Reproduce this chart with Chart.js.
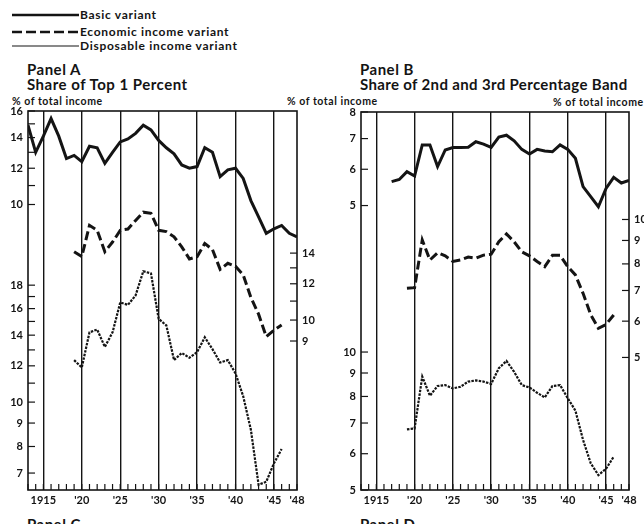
<!DOCTYPE html>
<html>
<head>
<meta charset="utf-8">
<script src="https://cdn.jsdelivr.net/npm/chart.js@4.4.1/dist/chart.umd.min.js"></script>
<style>
  html, body { margin: 0; padding: 0; background: #fff; overflow: hidden; width: 644px; height: 524px; }
  body { position: relative; font-family: Lato, "DejaVu Sans", sans-serif; color: #141414; }
  .t { position: absolute; white-space: nowrap; font-weight: bold; line-height: 1; }
  .lg { font-size: 12px; letter-spacing: 0.7px; }
  .pn { font-size: 15px; letter-spacing: 0.5px; }
  .un { font-size: 10.5px; letter-spacing: 0.55px; }
  canvas { position: absolute; top: 0; }
</style>
</head>
<body>
<svg style="position:absolute;left:0;top:0" width="90" height="55">
  <line x1="12" y1="15" x2="79" y2="15" stroke="#141414" stroke-width="2.5"/>
  <line x1="12" y1="32" x2="79" y2="32" stroke="#141414" stroke-width="2.5" stroke-dasharray="10 4"/>
  <line x1="12" y1="46" x2="79" y2="46" stroke="#141414" stroke-width="1.2"/>
</svg>
<div class="t lg" style="left:80px;top:9px">Basic variant</div>
<div class="t lg" style="left:80px;top:26px">Economic income variant</div>
<div class="t lg" style="left:80px;top:40px">Disposable income variant</div>

<div class="t pn" style="left:27px;top:62px">Panel A</div>
<div class="t pn" style="left:27px;top:77px">Share of Top 1 Percent</div>
<div class="t un" style="left:12px;top:96px">% of total income</div>
<div class="t un" style="left:287px;top:96px">% of total income</div>

<div class="t pn" style="left:360px;top:62px">Panel B</div>
<div class="t pn" style="left:360px;top:77px;letter-spacing:0.35px">Share of 2nd and 3rd Percentage Band</div>
<div class="t un" style="left:553px;top:97px">% of total income</div>

<div class="t pn" style="left:27px;top:517px">Panel C</div>
<div class="t pn" style="left:360px;top:517px">Panel D</div>

<canvas id="chartA" width="322" height="524" style="left:0"></canvas>
<canvas id="chartB" width="340" height="524" style="left:320px"></canvas>

<script>
const years = [1913, 1914, 1915, 1916, 1917, 1918, 1919, 1920, 1921, 1922, 1923, 1924,
  1925, 1926, 1927, 1928, 1929, 1930, 1931, 1932, 1933, 1934, 1935, 1936,
  1937, 1938, 1939, 1940, 1941, 1942, 1943, 1944, 1945, 1946, 1947, 1948];
const xLabelYears = [1915, 1920, 1925, 1930, 1935, 1940, 1945, 1948];
const xLabels = ["1915", "'20", "'25", "'30", "'35", "'40", "'45", "'48"];

// Panel A - share of top 1 percent
const topBasic = [14.9, 13.0, 14.1, 15.4, 14.1, 12.6, 12.8, 12.4, 13.4, 13.3, 12.3, 13.0,
  13.7, 13.9, 14.3, 14.9, 14.55, 13.8, 13.3, 12.9, 12.2, 12.0, 12.1, 13.3,
  13.0, 11.5, 11.9, 12.0, 11.4, 10.2, 9.4, 8.65, 8.85, 9.0, 8.65, 8.5];
const topEconomic = [null, null, null, null, null, null, 14.1, 13.76, 16.1, 15.7, 14.1, 14.8,
  15.7, 15.8, 16.5, 17.2, 17.1, 15.7, 15.6, 15.2, 14.45, 13.6, 13.75, 14.7,
  14.25, 12.9, 13.3, 13.1, 12.55, 11.2, 10.3, 9.2, 9.5, 9.75, null, null];
const topDisposable = [null, null, null, null, null, null, 12.35, 11.9, 14.2, 14.4, 13.2, 14.2,
  16.5, 16.3, 17.1, 19.3, 19.1, 15.2, 14.7, 12.35, 12.8, 12.5, 12.85, 13.85,
  13.05, 12.2, 12.35, 11.55, 10.3, 8.7, 6.6, 6.7, 7.35, 7.9, null, null];

// Panel B - share of 2nd and 3rd percentage band
const bandBasic = [null, null, null, null, 5.64, 5.7, 5.93, 5.8, 6.78, 6.78, 6.08, 6.61,
  6.69, 6.69, 6.7, 6.89, 6.81, 6.7, 7.05, 7.12, 6.92, 6.63, 6.48, 6.63,
  6.58, 6.55, 6.78, 6.63, 6.34, 5.5, 5.23, 4.97, 5.45, 5.76, 5.6, 5.67];
const bandEconomic = [null, null, null, null, null, null, 7.08, 7.1, 9.02, 8.16, 8.46, 8.33,
  8.1, 8.16, 8.28, 8.23, 8.36, 8.4, 8.94, 9.3, 8.94, 8.5, 8.33, 8.1,
  7.89, 8.35, 8.35, 7.89, 7.57, 6.9, 6.2, 5.79, 5.9, 6.19, null, null];
const bandDisposable = [null, null, null, null, null, null, 6.78, 6.81, 8.84, 8.03, 8.43, 8.47,
  8.33, 8.4, 8.62, 8.67, 8.62, 8.52, 9.22, 9.56, 9.05, 8.47, 8.37, 8.15,
  7.96, 8.43, 8.47, 7.93, 7.45, 6.43, 5.72, 5.39, 5.56, 5.91, null, null];

// axis ticks (all ticks get a mark, the listed ones get a number)
const topBasicTicks = [10, 11, 12, 13, 14, 15, 16];
const topBasicLabels = [10, 12, 14, 16];
const topEconTicks = [9, 10, 11, 12, 13, 14];
const topEconLabels = [9, 10, 12, 14];
const topDispTicks = [7, 8, 9, 10, 11, 12, 13, 14, 15, 16, 17, 18];
const topDispLabels = [7, 8, 9, 10, 12, 14, 16, 18];
const bandBasicTicks = [5, 6, 7, 8];
const bandEconTicks = [5, 6, 7, 8, 9, 10];
const bandDispTicks = [5, 6, 7, 8, 9, 10];

const INK = '#141414';
const tickFont = { family: 'Lato, "DejaVu Sans", sans-serif', size: 11, weight: 'bold' };

function pts(vals) {
  return years.map((yr, i) => ({ x: yr, y: vals[i] }));
}

function tickList(ticks, labels, k) {
  return ticks.map(v => ({ value: v * k, txt: labels.includes(v) ? String(v) : '' }));
}

// frame, inward tick marks
const frameTicks = {
  id: 'frameTicks',
  afterDatasetsDraw(chart) {
    const ctx = chart.ctx, a = chart.chartArea;
    ctx.save();
    ctx.strokeStyle = INK;
    ctx.lineWidth = 1.6;
    ctx.strokeRect(a.left, a.top, a.right - a.left, a.bottom - a.top);
    ctx.lineWidth = 1.2;
    Object.values(chart.scales).forEach(s => {
      if (!s.options.display) return;
      s.ticks.forEach(t => {
        const p = s.getPixelForValue(t.value);
        ctx.beginPath();
        if (s.axis === 'x') { ctx.moveTo(p, a.bottom); ctx.lineTo(p, a.bottom - 6); }
        else if (s.position === 'left') { ctx.moveTo(a.left, p); ctx.lineTo(a.left + 7, p); }
        else { ctx.moveTo(a.right, p); ctx.lineTo(a.right - 7, p); }
        ctx.stroke();
      });
    });
    ctx.restore();
  }
};

function lineSet(vals, axis, kind) {
  const ds = {
    data: pts(vals), yAxisID: axis, borderColor: INK, pointRadius: 0,
    tension: 0, spanGaps: false, fill: false, borderWidth: 3
  };
  if (kind === 'econ') ds.borderDash = [9, 4];
  if (kind === 'disp') { ds.borderDash = [2.5, 1.2]; ds.borderWidth = 2.2; }
  return ds;
}

function makeChart(id, cfg) {
  const xAxis = {
    type: 'linear', min: 1913, max: 1948,
    afterBuildTicks: s => { s.ticks = years.map(v => ({ value: v })); },
    afterFit: s => { s.height = 34; },
    grid: {
      drawTicks: false, lineWidth: 1.4,
      color: c => (c.tick && c.tick.value % 5 === 0 && c.tick.value > 1913 && c.tick.value < 1948) ? INK : 'rgba(0,0,0,0)'
    },
    border: { display: false },
    ticks: {
      autoSkip: false, maxRotation: 0, padding: 4, color: INK, font: tickFont,
      callback: v => { const i = xLabelYears.indexOf(v); return i < 0 ? '' : xLabels[i]; }
    }
  };
  const logAxis = (pos, max, span, show, width, tickFn) => ({
    type: 'logarithmic', position: pos, min: max / span, max: max, display: show,
    afterBuildTicks: tickFn ? (s => { s.ticks = tickFn(); }) : undefined,
    afterFit: s => { s.width = width; },
    grid: { display: false, drawTicks: false },
    border: { display: false },
    ticks: { autoSkip: false, padding: 5, color: INK, font: tickFont,
      callback: (v, i, t) => (t[i] && t[i].txt !== undefined) ? t[i].txt : '' }
  });
  return new Chart(document.getElementById(id), {
    type: 'line',
    data: { datasets: [
      lineSet(cfg.basic, 'yBasic', 'basic'),
      lineSet(cfg.econ, 'yEcon', 'econ'),
      lineSet(cfg.disp, 'yDisp', 'disp')
    ] },
    options: {
      responsive: false, animation: false,
      layout: { padding: { top: cfg.top, left: 0, right: 0, bottom: 0 } },
      plugins: { legend: { display: false }, tooltip: { enabled: false } },
      scales: {
        x: xAxis,
        yBasic: logAxis('left', cfg.basicMax, cfg.span, true, cfg.leftW,
          () => tickList(cfg.basicTicks, cfg.basicLabels, 1)
            .concat(tickList(cfg.dispTicks, cfg.dispLabels, cfg.basicMax / cfg.dispMax))),
        yEcon: logAxis('right', cfg.econMax, cfg.span, true, cfg.rightW,
          () => tickList(cfg.econTicks, cfg.econLabels, 1)),
        yDisp: logAxis('left', cfg.dispMax, cfg.span, false, 0, null)
      }
    },
    plugins: [frameTicks]
  });
}

makeChart('chartA', {
  basic: topBasic, econ: topEconomic, disp: topDisposable,
  basicMax: 16, econMax: 28.6, dispMax: 43.2, span: 6.72,
  basicTicks: topBasicTicks, basicLabels: topBasicLabels,
  econTicks: topEconTicks, econLabels: topEconLabels,
  dispTicks: topDispTicks, dispLabels: topDispLabels,
  top: 111, leftW: 28, rightW: 25
});

makeChart('chartB', {
  basic: bandBasic, econ: bandEconomic, disp: bandDisposable,
  basicMax: 8, econMax: 17.16, dispMax: 33.4, span: 6.68,
  basicTicks: bandBasicTicks, basicLabels: bandBasicTicks,
  econTicks: bandEconTicks, econLabels: bandEconTicks,
  dispTicks: bandDispTicks, dispLabels: bandDispTicks,
  top: 112, leftW: 41, rightW: 31
});
</script>
</body>
</html>
